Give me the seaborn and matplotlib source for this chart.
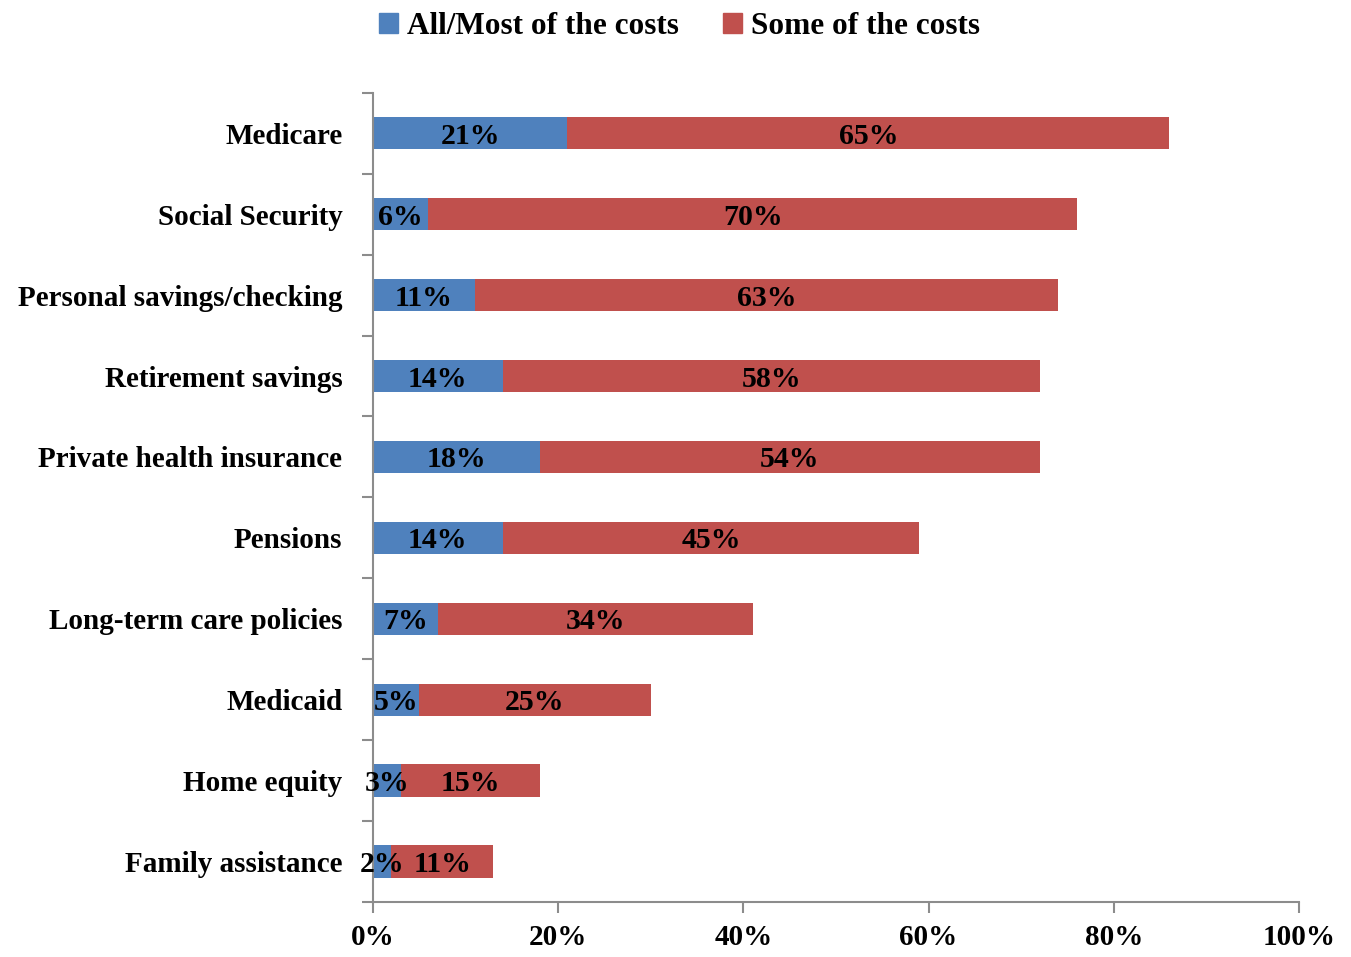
import matplotlib
matplotlib.use("Agg")
import matplotlib.pyplot as plt
from matplotlib.patches import Patch
from matplotlib.ticker import PercentFormatter
import seaborn as sns
import pandas as pd

categories = ["Medicare", "Social Security", "Personal savings/checking",
              "Retirement savings", "Private health insurance", "Pensions",
              "Long-term care policies", "Medicaid", "Home equity",
              "Family assistance"]
all_most = [21, 6, 11, 14, 18, 14, 7, 5, 3, 2]
some = [65, 70, 63, 58, 54, 45, 34, 25, 15, 11]
series_names = ["All/Most of the costs", "Some of the costs"]
x_ticks = [0, 20, 40, 60, 80, 100]

BLUE = "#4F81BD"
RED = "#C0504D"
GRAY = "#8C8C8C"

sns.set_style("white")
plt.rcParams["font.family"] = ["Liberation Serif", "DejaVu Serif"]
plt.rcParams["font.weight"] = "bold"
plt.rcParams["text.color"] = "black"
plt.rcParams["xtick.color"] = "black"
plt.rcParams["ytick.color"] = "black"

df = pd.DataFrame({"cat": categories, "a": all_most, "b": some})
df["total"] = df["a"] + df["b"]

fig = plt.figure(figsize=(13.51, 9.57), dpi=100)
ax = fig.add_axes([0.276, 0.0575, 0.6855, 0.8455])

sns.barplot(data=df, x="total", y="cat", color=RED, saturation=1,
            width=0.4, ax=ax, linewidth=0)
sns.barplot(data=df, x="a", y="cat", color=BLUE, saturation=1,
            width=0.4, ax=ax, linewidth=0)

fs = 21
for i, (a, b) in enumerate(zip(all_most, some)):
    ax.text(a / 2, i, f"{a}%", ha="center", va="center_baseline", fontsize=fs + 0.5,
            fontweight="bold", color="black")
    ax.text(a + b / 2, i, f"{b}%", ha="center", va="center_baseline", fontsize=fs + 0.5,
            fontweight="bold", color="black")

ax.set_xlim(0, 100)
ax.set_ylim(len(categories) - 0.5, -0.5)
ax.set_xticks(x_ticks)
ax.xaxis.set_major_formatter(PercentFormatter(decimals=0))
ax.set_xlabel("")
ax.set_ylabel("")

ax.set_yticks(list(range(len(categories))))
ax.set_yticklabels(categories)
ax.set_yticks([i - 0.5 for i in range(len(categories) + 1)], minor=True)
ax.tick_params(axis="y", which="major", left=False, length=0, pad=22, labelsize=fs,
               labelcolor="black")
ax.tick_params(axis="y", which="minor", left=True, length=8, width=1.5, color=GRAY,
               direction="out")
ax.tick_params(axis="x", which="major", bottom=True, length=8, width=1.5, color=GRAY,
               direction="out", pad=8, labelsize=fs, labelcolor="black")
for lab in ax.get_xticklabels() + ax.get_yticklabels():
    lab.set_fontweight("bold")

for s in ["top", "right"]:
    ax.spines[s].set_visible(False)
for s in ["left", "bottom"]:
    ax.spines[s].set_color(GRAY)
    ax.spines[s].set_linewidth(1.5)
ax.grid(False)

handles = [Patch(color=BLUE), Patch(color=RED)]
fig.legend(handles, series_names, loc="upper center", bbox_to_anchor=(0.503, 1.017),
           ncol=2, frameon=False, handlelength=0.6, handleheight=0.6,
           handletextpad=0.3, columnspacing=1.4, prop={"weight": "bold", "size": 22.5})

fig.savefig("out.png", dpi=100)
